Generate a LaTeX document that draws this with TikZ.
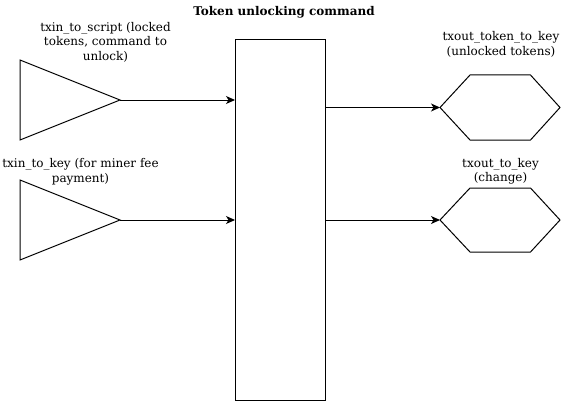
\documentclass[tikz,border=0pt]{standalone}
\usepackage{fontspec}
\setmainfont{DejaVu Serif}
\usetikzlibrary{arrows.meta}
\tikzset{
  shapeline/.style={draw=black, line width=1pt},
  arr/.style={draw=black, line width=1pt, -{Stealth[length=9pt,width=8pt,inset=2.5pt]}},
  lbl/.style={align=center, inner sep=0pt, font=\fontsize{12}{14.5}\selectfont},
}
\begin{document}
\begin{tikzpicture}[x=1pt,y=-1pt]
\useasboundingbox (0,0) rectangle (561,401);
% title
\node[font=\fontsize{12}{14}\selectfont\bfseries, inner sep=0pt] (title) at (284,12) {Token unlocking command};
% central box
\node[shapeline, anchor=north west, minimum width=90pt, minimum height=360pt, inner sep=0pt, outer sep=0pt] (box) at (235,40) {};
% input triangles
\draw[shapeline] (20,60) -- (120,100) -- (20,140) -- cycle;
\coordinate (t1) at (120,100);
\draw[shapeline] (20,180) -- (120,220) -- (20,260) -- cycle;
\coordinate (t2) at (120,220);
% output hexagons
\draw[shapeline] (440,107.5) -- (470,75) -- (530.5,75) -- (560,107.5) -- (530.5,140) -- (470,140) -- cycle;
\coordinate (h1) at (440,107.5);
\draw[shapeline] (440,220) -- (470,188) -- (530.5,188) -- (560,220) -- (530.5,252) -- (470,252) -- cycle;
\coordinate (h2) at (440,220);
% connectors
\draw[arr] (t1) -- (box.west |- t1);
\draw[arr] (t2) -- (box.west |- t2);
\draw[arr] (box.east |- h1) -- (h1);
\draw[arr] (box.east |- h2) -- (h2);
% labels
\node[lbl] (l1) at (105.5,42) {txin\_to\_script (locked\\tokens, command to\\unlock)};
\node[lbl] (l2) at (80.5,172) {txin\_to\_key (for miner fee\\payment)};
\node[lbl] (l3) at (501,44.5) {txout\_token\_to\_key\\(unlocked tokens)};
\node[lbl] (l4) at (500.5,171.5) {txout\_to\_key\\(change)};
\end{tikzpicture}
\end{document}
